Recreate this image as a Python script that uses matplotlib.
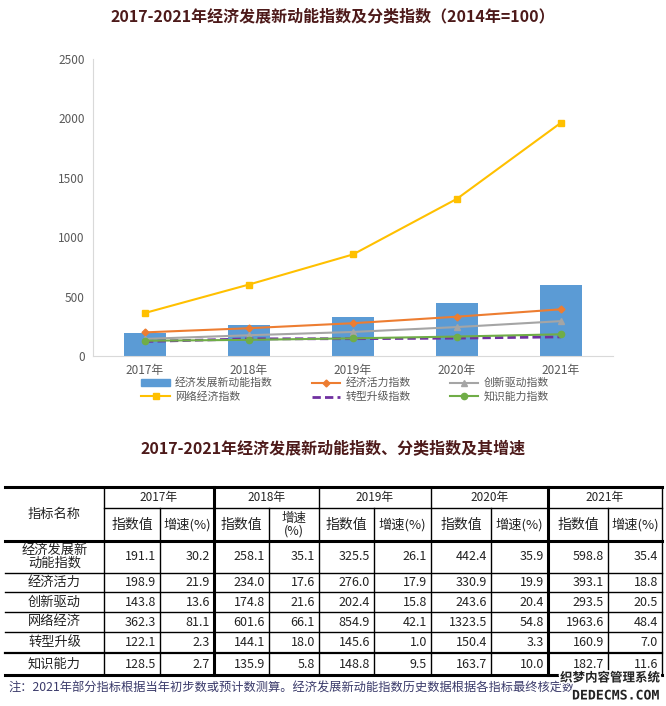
import matplotlib
matplotlib.use("Agg")
import matplotlib.pyplot as plt
import matplotlib.patheffects as pe
from matplotlib.lines import Line2D
from matplotlib.patches import Patch

plt.rcParams['font.family'] = ['Noto Sans CJK SC', 'DejaVu Sans']

# 数据
years = ['2017年', '2018年', '2019年', '2020年', '2021年']
names = ['经济发展新\n动能指数', '经济活力', '创新驱动', '网络经济', '转型升级', '知识能力']
zong = [191.1, 258.1, 325.5, 442.4, 598.8]
huoli = [198.9, 234.0, 276.0, 330.9, 393.1]
chuangxin = [143.8, 174.8, 202.4, 243.6, 293.5]
wangluo = [362.3, 601.6, 854.9, 1323.5, 1963.6]
zhuanxing = [122.1, 144.1, 145.6, 150.4, 160.9]
zhishi = [128.5, 135.9, 148.8, 163.7, 182.7]
# 增速(%)
zong_g = [30.2, 35.1, 26.1, 35.9, 35.4]
huoli_g = [21.9, 17.6, 17.9, 19.9, 18.8]
chuangxin_g = [13.6, 21.6, 15.8, 20.4, 20.5]
wangluo_g = [81.1, 66.1, 42.1, 54.8, 48.4]
zhuanxing_g = [2.3, 18.0, 1.0, 3.3, 7.0]
zhishi_g = [2.7, 5.8, 9.5, 10.0, 11.6]
yticks = [0, 500, 1000, 1500, 2000, 2500]

title1 = '2017-2021年经济发展新动能指数及分类指数（2014年=100）'
title2 = '2017-2021年经济发展新动能指数、分类指数及其增速'
note = '注：2021年部分指标根据当年初步数或预计数测算。经济发展新动能指数历史数据根据各指标最终核定数'

fig = plt.figure(figsize=(6.66, 7.06), dpi=100)
W, H = 666, 706

# 图表
ax = fig.add_axes([93 / W, 1 - 356 / H, 520 / W, 297 / H])
x = list(range(len(years)))
ax.bar(x, zong, width=0.4, color='#5B9BD5', zorder=1)
ax.plot(x, huoli, color='#ED7D31', lw=1.5, marker='D', ms=3.5, zorder=3)
ax.plot(x, chuangxin, color='#A5A5A5', lw=1.5, marker='^', ms=4, zorder=3)
ax.plot(x, wangluo, color='#FFC000', lw=1.5, marker='s', ms=5, zorder=3)
ax.plot(x, zhuanxing, color='#7030A0', lw=2, ls=(0, (3, 1.5)), zorder=3)
ax.plot(x, zhishi, color='#70AD47', lw=1.5, marker='o', ms=4.5, zorder=3)
ax.set_xlim(-0.5, 4.5)
ax.set_ylim(0, 2500)
ax.set_yticks(yticks)
ax.set_xticks(x)
ax.set_xticklabels(years)
ax.tick_params(length=0, labelsize=8.5, colors='#595959', pad=6)
for s in ['top', 'right']:
    ax.spines[s].set_visible(False)
ax.spines['left'].set_color('#D9D9D9')
ax.spines['bottom'].set_color('#D9D9D9')

fig.text(0.5, 1 - 16 / H, title1, ha='center', va='center', fontsize=11.5,
         fontweight='bold', color='#4d1a1a')

handles = [Patch(color='#5B9BD5'),
           Line2D([], [], color='#FFC000', lw=1.5, marker='s', ms=5),
           Line2D([], [], color='#ED7D31', lw=1.5, marker='D', ms=3.5),
           Line2D([], [], color='#7030A0', lw=2, ls=(0, (3, 1.5))),
           Line2D([], [], color='#A5A5A5', lw=1.5, marker='^', ms=4),
           Line2D([], [], color='#70AD47', lw=1.5, marker='o', ms=4.5)]
labels = ['经济发展新动能指数', '网络经济指数', '经济活力指数', '转型升级指数',
          '创新驱动指数', '知识能力指数']
fig.legend(handles, labels, ncol=3, loc='center', bbox_to_anchor=(345 / W, 1 - 390 / H),
           frameon=False, fontsize=7.8, handlelength=2.6, columnspacing=3.6,
           labelspacing=0.3, handletextpad=0.5, labelcolor='#595959')

# 表格
tx = fig.add_axes([0, 0, 1, 1])
tx.set_xlim(0, W)
tx.set_ylim(H, 0)
tx.axis('off')

fig.text(0.5, 1 - 449 / H, title2, ha='center', va='center', fontsize=11.5,
         fontweight='bold', color='#4d1a1a')

cols = [5, 104, 160, 214, 269, 319, 374, 431, 491, 548, 608, 662]
rows = [487, 508, 541, 573, 592, 612, 632, 653, 675]
thick = 2.2
thin = 1.0

tx.plot([cols[0], cols[-1]], [rows[0], rows[0]], color='k', lw=thick)
tx.plot([cols[1], cols[-1]], [rows[1], rows[1]], color='k', lw=thin)
tx.plot([cols[0], cols[-1]], [rows[2], rows[2]], color='k', lw=thick)
for r in rows[3:-2]:
    tx.plot([cols[0], cols[-1]], [r, r], color='k', lw=thin)
tx.plot([cols[0], cols[-1]], [rows[-2], rows[-2]], color='k', lw=1.6)
tx.plot([cols[0], cols[-1]], [rows[-1], rows[-1]], color='k', lw=thick)
for i, c in enumerate(cols[1:], start=1):
    lw = thick if c in (214, 548) else thin
    top = rows[1] if i % 2 == 0 and i < len(cols) - 1 else rows[0]
    tx.plot([c, c], [top, rows[-1]], color='k', lw=lw)

txt = '#222222'
tx.text((cols[0] + cols[1]) / 2, (rows[0] + rows[2]) / 2, '指标名称', ha='center',
        va='center', fontsize=9.5, color=txt)
for j, y in enumerate(years):
    c0, c1, c2 = cols[1 + 2 * j], cols[2 + 2 * j], cols[3 + 2 * j]
    tx.text((c0 + c2) / 2, (rows[0] + rows[1]) / 2, y, ha='center', va='center',
            fontsize=8.5, color=txt)
    tx.text((c0 + c1) / 2, (rows[1] + rows[2]) / 2, '指数值', ha='center', va='center',
            fontsize=10, color=txt)
    sp = '增速\n(%)' if j == 1 else '增速(%)'
    tx.text((c1 + c2) / 2, (rows[1] + rows[2]) / 2, sp, ha='center', va='center',
            fontsize=9.5 if j != 1 else 9, color=txt, linespacing=1.0)

vals = [zong, huoli, chuangxin, wangluo, zhuanxing, zhishi]
grows = [zong_g, huoli_g, chuangxin_g, wangluo_g, zhuanxing_g, zhishi_g]
for i, nm in enumerate(names):
    yc = (rows[2 + i] + rows[3 + i]) / 2
    tx.text((cols[0] + cols[1]) / 2, yc, nm, ha='center', va='center', fontsize=9.5,
            color=txt, linespacing=1.0)
    for j in range(len(years)):
        tx.text(cols[2 + 2 * j] - 4, yc, f'{vals[i][j]:.1f}', ha='right', va='center',
                fontsize=9, color=txt)
        tx.text(cols[3 + 2 * j] - 4, yc, f'{grows[i][j]:.1f}', ha='right', va='center',
                fontsize=9, color=txt)

tx.text(8, 688, note, ha='left', va='center', fontsize=8.8, color='#3b3b6b')

# 水印
wm = [pe.withStroke(linewidth=2.5, foreground='white')]
tx.text(660, 678, '织梦内容管理系统', ha='right', va='center', fontsize=9,
        fontweight='bold', color='#222222', path_effects=wm)
tx.text(660, 696, 'DEDECMS.COM', ha='right', va='center', fontsize=9.5,
        fontweight='bold', color='#222222', path_effects=wm, family='DejaVu Sans Mono')

fig.savefig('out.png', dpi=100)
